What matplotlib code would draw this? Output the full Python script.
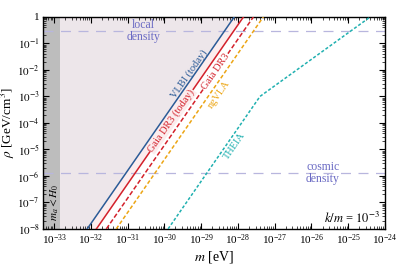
import numpy as np
import matplotlib
matplotlib.use("Agg")
import matplotlib.pyplot as plt

plt.rcParams['font.family'] = ['Liberation Serif', 'DejaVu Serif']
plt.rcParams['mathtext.fontset'] = 'stix'

# curves: rho [GeV/cm^3] vs m [eV]
rho_line = [1e-8, 1.0]
m_vlbi = [10**-32.1, 10**-28.1]
m_gaia_today = [10**-31.85, 10**-27.85]
m_gaia = [10**-31.58, 10**-27.58]
m_ngvla = [10**-31.31, 10**-27.31]

m_theia = [10**-29.9, 10**-27.4, 10**-24.4]
rho_theia = [1e-8, 10**-3.0, 1.0]

rho_local = 0.3
rho_cosmic = 1.26e-6
H0 = 1.45e-33

xlim = (10**-33.3, 1e-24)
ylim = (1e-8, 1.0)

fig = plt.figure(figsize=(3.99, 2.64), dpi=100)
ax = fig.add_axes([0.108, 0.133, 0.857, 0.803])
ax.set_xscale('log')
ax.set_yscale('log')
ax.set_xlim(*xlim)
ax.set_ylim(*ylim)

# shaded regions
ax.fill_betweenx(rho_line, [xlim[0]] * 2, m_vlbi, color='#ede6ea', lw=0, zorder=0)
ax.fill_betweenx(rho_line, m_vlbi, m_gaia_today, color='#fcedee', lw=0, zorder=0)
ax.axvspan(xlim[0], H0, color='#bdbdbd', lw=0, zorder=1)

# density lines
ax.axhline(rho_local, color='#b8b6de', ls=(0, (8, 6)), lw=0.9, zorder=2)
ax.axhline(rho_cosmic, color='#b8b6de', ls=(0, (8, 6)), lw=0.9, zorder=2)

ax.plot(m_vlbi, rho_line, color='#2b5b97', lw=1.1, zorder=3)
ax.plot(m_gaia_today, rho_line, color='#d3212b', lw=1.1, zorder=3)
ax.plot(m_gaia, rho_line, color='#d3212b', lw=1.1, ls=(0, (3, 1.5)), zorder=3)
ax.plot(m_ngvla, rho_line, color='#eca514', lw=1.1, ls=(0, (2.5, 1.5)), zorder=3)
ax.plot(m_theia, rho_theia, color='#20b0b0', lw=1.1, ls=(0, (2, 1.3)), zorder=3)

# angle of slope-2 lines on screen
p = ax.transData.transform([(1e-30, 1e-6), (1e-29, 1e-4)])
ang = np.degrees(np.arctan2(p[1, 1] - p[0, 1], p[1, 0] - p[0, 0]))

fs = 7.5
kw = dict(rotation=ang, ha='center', va='center', fontsize=fs,
          rotation_mode='anchor', zorder=5)
ax.text(10**-29.33, 10**-2.15, 'VLBI (today)', color='#2b5b97', **kw)
ax.text(10**-29.81, 10**-3.92, 'Gaia DR3 (today)', color='#d3212b',
        bbox=dict(boxstyle='square,pad=0.05', fc='#fcedee', ec='none'), **kw)
ax.text(10**-28.6, 10**-2.06, 'Gaia DR3', color='#d3212b',
        bbox=dict(boxstyle='square,pad=0.05', fc='white', ec='none'), **kw)
ax.text(10**-28.52, 10**-2.94, 'ngVLA', color='#eca514', **kw)
ax.text(10**-28.08, 10**-4.87, 'THEIA', color='#20b0b0', **kw)

ax.text(10**-30.58, rho_local, 'local\ndensity', color='#6b6bc4', ha='center',
        va='center', fontsize=8.5, linespacing=0.95, zorder=4)
ax.text(10**-25.69, rho_cosmic, 'cosmic\ndensity', color='#6b6bc4', ha='center',
        va='center', fontsize=8.5, linespacing=0.95, zorder=4)
ax.text(10**-32.97, 10**-7.02, '$m_a < H_0$', rotation=90, ha='center',
        va='center', fontsize=8, zorder=4)
ax.text(10**-24.14, 10**-7.62, '$k/m$ = $10^{-3}$', ha='right', va='center',
        fontsize=9)

ax.set_xlabel('$m$ [eV]', fontsize=10)
ax.set_ylabel(r'$\rho$ [GeV/cm$^3$]', fontsize=9.5)
ax.xaxis.set_label_coords(0.5, -0.095)
ax.yaxis.set_label_coords(-0.076, 0.5)

ax.set_xticks([10.0**k for k in range(-33, -23)])
ax.set_yticks([10.0**k for k in range(-8, 1)])
ax.set_yticklabels(['$10^{%d}$' % k for k in range(-8, 0)] + ['1'])
ax.tick_params(which='both', direction='in', top=True, right=True, labelsize=8)
ax.tick_params(which='major', length=4, width=0.8, pad=2.5)
ax.tick_params(which='minor', length=2, width=0.5)
ax.xaxis.set_minor_locator(matplotlib.ticker.LogLocator(base=10, subs=np.arange(2, 10), numticks=20))
ax.yaxis.set_minor_locator(matplotlib.ticker.LogLocator(base=10, subs=np.arange(2, 10), numticks=20))
for s in ax.spines.values():
    s.set_linewidth(1.0)

fig.savefig('out.png', dpi=100)
